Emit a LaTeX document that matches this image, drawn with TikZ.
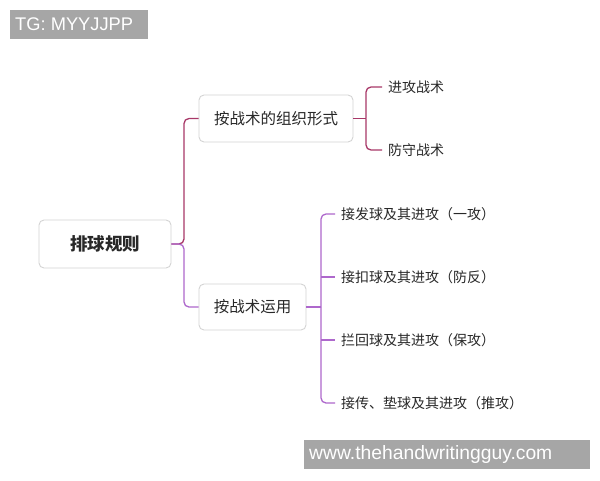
\documentclass[tikz,border=0pt]{standalone}
\usepackage{fontspec}
\setmainfont{Liberation Sans}
\newfontfamily\cjk{Noto Sans CJK SC}
\definecolor{redline}{RGB}{168,56,104}
\definecolor{purpline}{RGB}{174,104,204}
\definecolor{boxline}{RGB}{212,212,212}
\definecolor{txt}{RGB}{40,40,40}
\definecolor{wmgray}{RGB}{166,166,166}
\begin{document}
\begin{tikzpicture}[x=1pt,y=-1pt,
  topicbox/.style={draw=boxline,line width=0.9pt,rounded corners=5pt,fill=white,inner sep=0pt,text=txt},
  leaf/.style={anchor=west,inner sep=0pt,text=txt,font=\cjk\fontsize{14}{16}\selectfont},
  redconn/.style={draw=redline,line width=1.3pt,rounded corners=5pt},
  purpconn/.style={draw=purpline,line width=1.3pt,rounded corners=5pt},
  wmbox/.style={fill=wmgray,inner sep=0pt,anchor=north west},
  wmtext/.style={text=white,inner sep=0pt,anchor=west}]
\useasboundingbox (0,0) rectangle (600,480);
\fill[white] (0,0) rectangle (600,480);
% watermarks
\node[wmbox,minimum width=138pt,minimum height=29pt] (tg) at (10,10) {};
\node[wmtext,font=\fontsize{18.3}{20}\selectfont] (tgt) at (15,24.5) {TG: MYYJJPP};
\node[wmbox,minimum width=286pt,minimum height=29pt] (www) at (304,440) {};
\node[wmtext,font=\fontsize{19.3}{21}\selectfont] (wwwt) at (309,454.5) {www.thehandwritingguy.com};
% nodes
\node[topicbox,minimum width=132pt,minimum height=48pt,font=\cjk\bfseries\fontsize{17.5}{20}\selectfont] (root) at (105,244) {排球规则};
\node[topicbox,minimum width=154pt,minimum height=47pt,font=\cjk\fontsize{15.5}{18}\selectfont] (n1) at (276,118.5) {按战术的组织形式};
\node[topicbox,minimum width=107pt,minimum height=46pt,font=\cjk\fontsize{15.5}{18}\selectfont] (n2) at (252.5,307) {按战术运用};
% leaves
\node[leaf] (a1) at (388,87) {进攻战术};
\node[leaf] (a2) at (388,150) {防守战术};
\node[leaf] (b1) at (341,214) {接发球及其进攻（一攻）};
\node[leaf] (b2) at (341,277) {接扣球及其进攻（防反）};
\node[leaf] (b3) at (341,340) {拦回球及其进攻（保攻）};
\node[leaf] (b4) at (341,403) {接传、垫球及其进攻（推攻）};
% connectors
\draw[redconn] (root.east) -| (184,230) |- (n1.west);
\draw[purpconn] (root.east) -- (184,244) |- (n2.west);
\draw[redconn] (n1.east) -- (366,118.5);
\draw[redconn] (366,118.5) |- ([xshift=-6pt]a1.west);
\draw[redconn] (366,118.5) |- ([xshift=-6pt]a2.west);
\draw[purpconn] (n2.east) -- (321,307);
\draw[purpconn] (321,307) |- ([xshift=-6pt]b1.west);
\draw[purpconn] (321,307) |- ([xshift=-6pt]b4.west);
\draw[purpconn] (321,277) -- ([xshift=-6pt]b2.west);
\draw[purpconn] (321,340) -- ([xshift=-6pt]b3.west);
\end{tikzpicture}
\end{document}
